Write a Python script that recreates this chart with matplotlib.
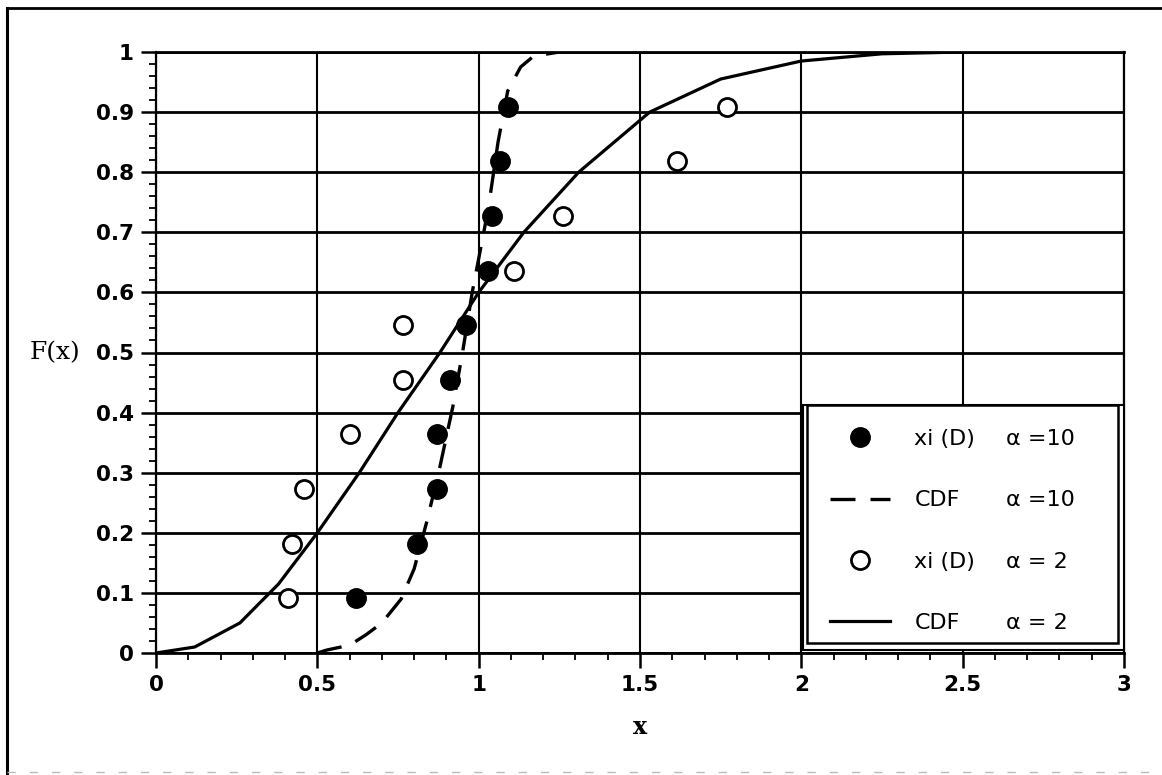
import matplotlib
matplotlib.use("Agg")
import matplotlib.pyplot as plt
from matplotlib.lines import Line2D
from matplotlib.patches import Rectangle
from matplotlib.ticker import MultipleLocator, FixedLocator

# ---------------- data ----------------
F_rank = [0.091, 0.182, 0.273, 0.364, 0.455, 0.545, 0.636, 0.727, 0.818, 0.909]
x_d10 = [0.62, 0.81, 0.87, 0.87, 0.91, 0.96, 1.03, 1.04, 1.065, 1.09]
x_d2 = [0.41, 0.42, 0.46, 0.60, 0.765, 0.765, 1.11, 1.26, 1.615, 1.77]

cdf10_x = [0.50, 0.53, 0.60, 0.65, 0.70, 0.76, 0.80, 0.84, 0.88, 0.92, 0.95,
           0.98, 1.03, 1.06, 1.09, 1.13, 1.17, 1.25, 1.35]
cdf10_F = [0.0, 0.005, 0.013, 0.03, 0.05, 0.09, 0.14, 0.22, 0.31, 0.41, 0.50,
           0.60, 0.74, 0.85, 0.935, 0.975, 0.993, 1.0, 1.0]

cdf2_x = [0.0, 0.12, 0.26, 0.38, 0.50, 0.63, 0.75, 0.88, 1.00, 1.14, 1.31,
          1.53, 1.75, 2.00, 2.25, 2.50, 3.00]
cdf2_F = [0.0, 0.01, 0.05, 0.115, 0.20, 0.30, 0.40, 0.50, 0.60, 0.70, 0.80,
          0.90, 0.955, 0.985, 0.997, 1.0, 1.0]

x_ticks = [0, 0.5, 1, 1.5, 2, 2.5, 3]
x_ticklabels = ["0", "0.5", "1", "1.5", "2", "2.5", "3"]
y_ticks = [0, 0.1, 0.2, 0.3, 0.4, 0.5, 0.6, 0.7, 0.8, 0.9, 1]
y_ticklabels = ["0", "0.1", "0.2", "0.3", "0.4", "0.5", "0.6", "0.7", "0.8", "0.9", "1"]

legend_labels = ["xi (D)", "CDF", "xi (D)", "CDF"]
legend_alpha = ["\u03b1 =10", "\u03b1 =10", "\u03b1 = 2", "\u03b1 = 2"]

# ---------------- figure ----------------
W, H = 1162, 775
fig = plt.figure(figsize=(W / 100, H / 100), dpi=100)
fig.patch.set_facecolor("white")

ax_l, ax_r, ax_t, ax_b = 156, 1124, 52, 653
ax = fig.add_axes([ax_l / W, (H - ax_b) / H, (ax_r - ax_l) / W, (ax_b - ax_t) / H])

ax.set_xlim(0, 3)
ax.set_ylim(0, 1)

# grid
ax.set_axisbelow(True)
ax.xaxis.set_major_locator(FixedLocator(x_ticks))
ax.yaxis.set_major_locator(FixedLocator(y_ticks))
ax.xaxis.set_minor_locator(MultipleLocator(0.1))
ax.yaxis.set_minor_locator(MultipleLocator(0.02))
ax.grid(True, which="major", axis="y", color="black", lw=2.0)
ax.grid(True, which="major", axis="x", color="black", lw=1.5)

for name, sp in ax.spines.items():
    sp.set_color("black")
    sp.set_linewidth(2.0 if name in ("top", "bottom") else 1.6)

ax.set_xticklabels(x_ticklabels)
ax.set_yticklabels(y_ticklabels)
ax.tick_params(which="major", direction="out", length=11, width=1.8, pad=5,
               labelsize=15.5, colors="black")
ax.tick_params(which="minor", direction="out", length=5, width=1.3)
ax.tick_params(top=False, right=False, which="both")
for lab in ax.get_xticklabels() + ax.get_yticklabels():
    lab.set_fontweight("bold")
    lab.set_family("DejaVu Sans")

# curves
l_cdf10, = ax.plot(cdf10_x, cdf10_F, color="black", lw=2.4,
                   linestyle=(0, (7.5, 4.5)), solid_capstyle="butt",
                   dash_capstyle="butt", zorder=3)
l_cdf2, = ax.plot(cdf2_x, cdf2_F, color="black", lw=2.3, zorder=3)
p_d10, = ax.plot(x_d10, F_rank, linestyle="none", marker="o", markersize=14,
                 markerfacecolor="black", markeredgecolor="black", zorder=4)
p_d2, = ax.plot(x_d2, F_rank, linestyle="none", marker="o", markersize=13,
                markerfacecolor="white", markeredgecolor="black", mew=2.0, zorder=4)

# axis labels
ax.set_xlabel("x", family="DejaVu Serif", fontweight="bold", fontsize=17, labelpad=14)
ax.text((55 - ax_l) / (ax_r - ax_l), (ax_b - 353) / (ax_b - ax_t), "F(x)",
        transform=ax.transAxes, ha="center", va="center",
        family="DejaVu Serif", fontsize=18)

# legend frame (double border)
def afx(px):
    return (px - ax_l) / (ax_r - ax_l)

def afy(py):
    return (ax_b - py) / (ax_b - ax_t)

outer = Rectangle((afx(803), afy(650)), afx(1124) - afx(803), afy(405) - afy(650),
                  transform=ax.transAxes, facecolor="white", edgecolor="black",
                  lw=1.5, zorder=5, clip_on=False)
inner = Rectangle((afx(807), afy(643)), afx(1118) - afx(807), afy(405) - afy(643),
                  transform=ax.transAxes, facecolor="white", edgecolor="black",
                  lw=1.8, zorder=5.1, clip_on=False)
ax.add_patch(outer)
ax.add_patch(inner)

leg = ax.legend([p_d10, l_cdf10, p_d2, l_cdf2], legend_labels,
                loc="upper left", bbox_to_anchor=(afx(830), afy(429)),
                frameon=False, borderaxespad=0, borderpad=0,
                handlelength=2.7, handletextpad=1.1, labelspacing=1.86,
                prop={"family": "DejaVu Sans", "size": 16})
leg.set_zorder(6)

# outer figure frame (left and top visible, bottom faint)
fig.add_artist(Line2D([7 / W, 7 / W], [1 - 8 / H, 0], transform=fig.transFigure,
                      color="black", lw=2.2))
fig.add_artist(Line2D([7 / W, 1], [1 - 8 / H, 1 - 8 / H], transform=fig.transFigure,
                      color="black", lw=2.0))
fig.add_artist(Line2D([7 / W, 1], [1 - 772 / H, 1 - 772 / H], transform=fig.transFigure,
                      color="#bbbbbb", lw=1.0, linestyle=(0, (6, 10))))

# alpha column in the legend, aligned to legend rows
fig.canvas.draw()
renderer = fig.canvas.get_renderer()
inv = ax.transAxes.inverted()
for txt, alab in zip(leg.get_texts(), legend_alpha):
    bb = txt.get_window_extent(renderer)
    cy = 0.5 * (bb.y0 + bb.y1)
    _, ya = inv.transform((0, cy))
    ax.text(afx(1006), ya, alab, transform=ax.transAxes, ha="left", va="center",
            family="DejaVu Sans", fontsize=16, zorder=7)

fig.savefig("out.png", dpi=100)
